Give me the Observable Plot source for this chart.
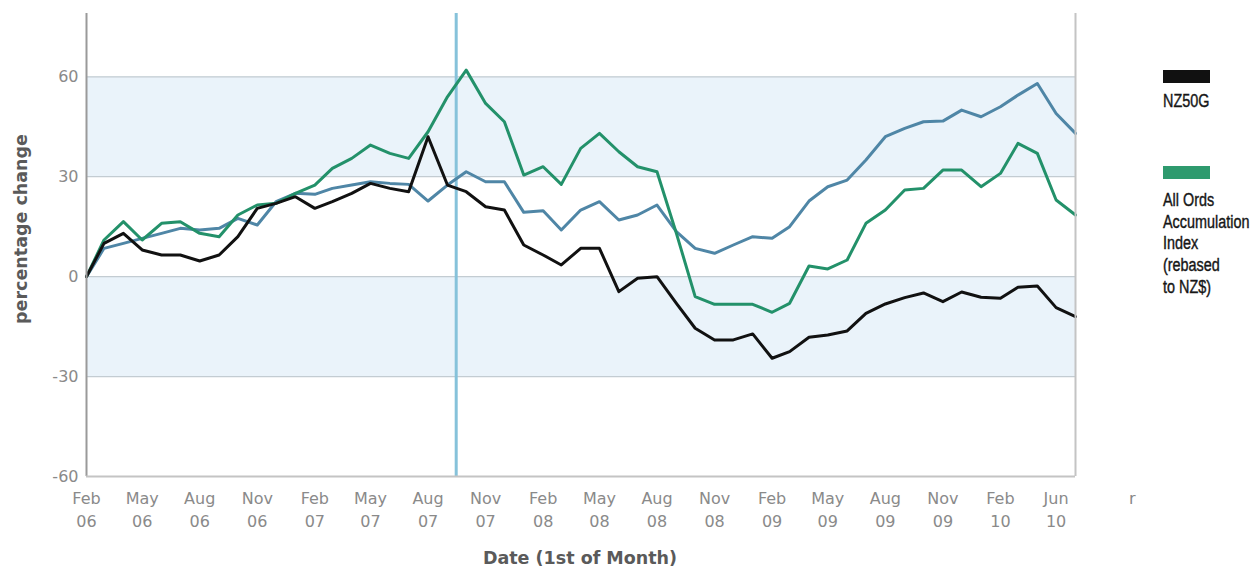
<!DOCTYPE html>
<html>
<head>
<meta charset="utf-8">
<script src="https://cdn.jsdelivr.net/npm/d3@7"></script>
<script src="https://cdn.jsdelivr.net/npm/@observablehq/plot@0.6"></script>
<style>
  html, body { margin: 0; padding: 0; background: #fff; }
  #wrap { position: relative; width: 1258px; height: 569px; overflow: hidden; }
  #legend { position: absolute; left: 1163px; top: 70px; font-family: "Liberation Sans", Arial, sans-serif; font-size: 18px; color: #161616; line-height: 21.8px; -webkit-text-stroke: 0.4px #161616; }
  .sw { width: 47px; height: 13px; -webkit-text-stroke: 0; }
  .lt { white-space: pre; transform: scaleX(0.8); transform-origin: left center; }
  #xlab { position: absolute; left: 580px; top: 548px; transform: translateX(-50%); font-family: "DejaVu Sans", sans-serif; font-weight: bold; font-size: 17.5px; color: #5a5a5a; white-space: nowrap; }
  #ylabel { position: absolute; left: 21px; top: 229px; transform: translate(-50%, -50%) rotate(-90deg); font-family: "DejaVu Sans", sans-serif; font-weight: bold; font-size: 17.5px; color: #5a5a5a; white-space: nowrap; }
  #stray { position: absolute; left: 1129px; top: 489px; font-family: "DejaVu Sans", sans-serif; font-size: 16px; color: #888; }
</style>
</head>
<body>
<div id="wrap">
  <div id="chart"></div>
  <div id="ylabel">percentage change</div>
  <div id="xlab">Date (1st of Month)</div>
  <div id="stray">r</div>
  <div id="legend"></div>
</div>
<script>
// ---- data (monthly, Feb 2006 .. Jun 2010, % change) ----
const startYear = 2006, startMonth = 1; // Feb 2006
const nz50g = [0, 10, 13, 8, 6.5, 6.5, 4.7, 6.5, 12, 20.5, 22, 24, 20.5, 22.5, 25, 28, 26.5, 25.5, 42, 27.5,
  25.5, 21, 20, 9.5, 6.5, 3.5, 8.5, 8.5, -4.5, -0.5, 0, -8, -15.5, -19, -19, -17.2, -24.5, -22.5, -18.2, -17.5,
  -16.3, -11, -8.2, -6.3, -4.9, -7.5, -4.6, -6.2, -6.5, -3.2, -2.8, -9.3, -12];
const allOrds = [0, 11, 16.5, 11, 16, 16.5, 13, 12, 18.5, 21.5, 22, 25, 27.5, 32.5, 35.5, 39.5, 37, 35.5, 43.5, 54,
  62, 52, 46.5, 30.5, 33, 27.7, 38.5, 43, 37.5, 33, 31.5, 13, -6, -8.3, -8.3, -8.3, -10.7, -8, 3.2, 2.3,
  5, 16, 20, 26, 26.5, 32, 32, 27, 31, 40, 37, 23, 18.5];
const otherSeries = [0, 8.5, 10, 11.5, 13, 14.5, 14, 14.5, 17.5, 15.5, 22.5, 25, 24.7, 26.5, 27.5, 28.5, 28, 27.7, 22.7, 27.5,
  31.5, 28.5, 28.5, 19.3, 19.8, 14, 20, 22.5, 17, 18.5, 21.5, 13.5, 8.5, 7, 9.5, 12, 11.5, 15, 22.7, 27,
  29, 35, 42, 44.5, 46.5, 46.7, 50, 48, 51, 54.5, 58, 49, 43];
const seriesNames = ["Other", "All Ords Accumulation Index (rebased to NZ$)", "NZ50G"];
const seriesColors = ["#4f86a6", "#23916a", "#111111"];
const legendLabels = ["NZ50G", "All Ords\nAccumulation\nIndex\n(rebased\nto NZ$)"];
const legendColors = ["#111111", "#2e9a6e"];
const xTickLabels = ["Feb\n06", "May\n06", "Aug\n06", "Nov\n06", "Feb\n07", "May\n07", "Aug\n07", "Nov\n07",
  "Feb\n08", "May\n08", "Aug\n08", "Nov\n08", "Feb\n09", "May\n09", "Aug\n09", "Nov\n09", "Feb\n10", "Jun\n10"];
const xTickMonthIndex = [0, 3, 6, 9, 12, 15, 18, 21, 24, 27, 30, 33, 36, 39, 42, 45, 48, 51];
const yTicks = [-60, -30, 0, 30, 60];
const bands = [{lo: 30, hi: 60}, {lo: -30, hi: 0}];
const markerDate = new Date(2007, 8, 15);

const monthDate = i => new Date(startYear, startMonth + i, 1);
const seriesValues = [otherSeries, allOrds, nz50g];
const rows = [];
seriesValues.forEach((vals, s) => vals.forEach((v, i) => rows.push({date: monthDate(i), value: v, series: seriesNames[s]})));
const xStart = monthDate(0), xEnd = monthDate(nz50g.length - 1);
const tickDates = xTickMonthIndex.map(monthDate);
const tickLabelMap = new Map(tickDates.map((d, i) => [+d, xTickLabels[i]]));

const chart = Plot.plot({
  width: 1258,
  height: 569,
  marginLeft: 86,
  marginRight: 183,
  marginTop: 13,
  marginBottom: 93,
  style: {fontFamily: "'DejaVu Sans', sans-serif", fontSize: "16px", color: "#8a8a8a", background: "transparent"},
  x: {type: "time", domain: [xStart, xEnd]},
  y: {domain: [-60, 79]},
  color: {domain: seriesNames, range: seriesColors},
  marks: [
    Plot.rect(bands, {y1: "lo", y2: "hi", fill: "#eaf3fa"}),
    Plot.ruleY([-30, 0, 30, 60], {stroke: "#c3ccd2", strokeWidth: 1.3}),
    Plot.ruleX([markerDate], {stroke: "#86c2da", strokeWidth: 3}),
    Plot.lineY(rows, {x: "date", y: "value", z: "series", stroke: "series", strokeWidth: 3, strokeLinejoin: "round"}),
    Plot.ruleX([xStart], {stroke: "#9a9a9a", strokeWidth: 2}),
    Plot.ruleX([xEnd], {stroke: "#c4c4c4", strokeWidth: 2}),
    Plot.ruleY([-60], {stroke: "#c4c4c4", strokeWidth: 2}),
    Plot.axisX(tickDates, {tickSize: 0, tickPadding: 12, tickFormat: d => tickLabelMap.get(+d), lineHeight: 1.4, fill: "#8a8a8a", label: null, fontSize: 16, letterSpacing: "0.4px"}),
    Plot.axisY(yTicks, {tickSize: 0, tickPadding: 8, tickFormat: d => String(d), fill: "#8a8a8a", label: null, fontSize: 16})
  ]
});
document.getElementById("chart").appendChild(chart);

// legend
const leg = document.getElementById("legend");
legendLabels.forEach((lab, i) => {
  const sw = document.createElement("div");
  sw.className = "sw";
  sw.style.background = legendColors[i];
  sw.style.marginTop = i === 0 ? "0px" : "53px";
  leg.appendChild(sw);
  const t = document.createElement("div");
  t.className = "lt";
  t.style.marginTop = i === 0 ? "8px" : "11px";
  t.textContent = lab;
  leg.appendChild(t);
});
</script>
</body>
</html>
